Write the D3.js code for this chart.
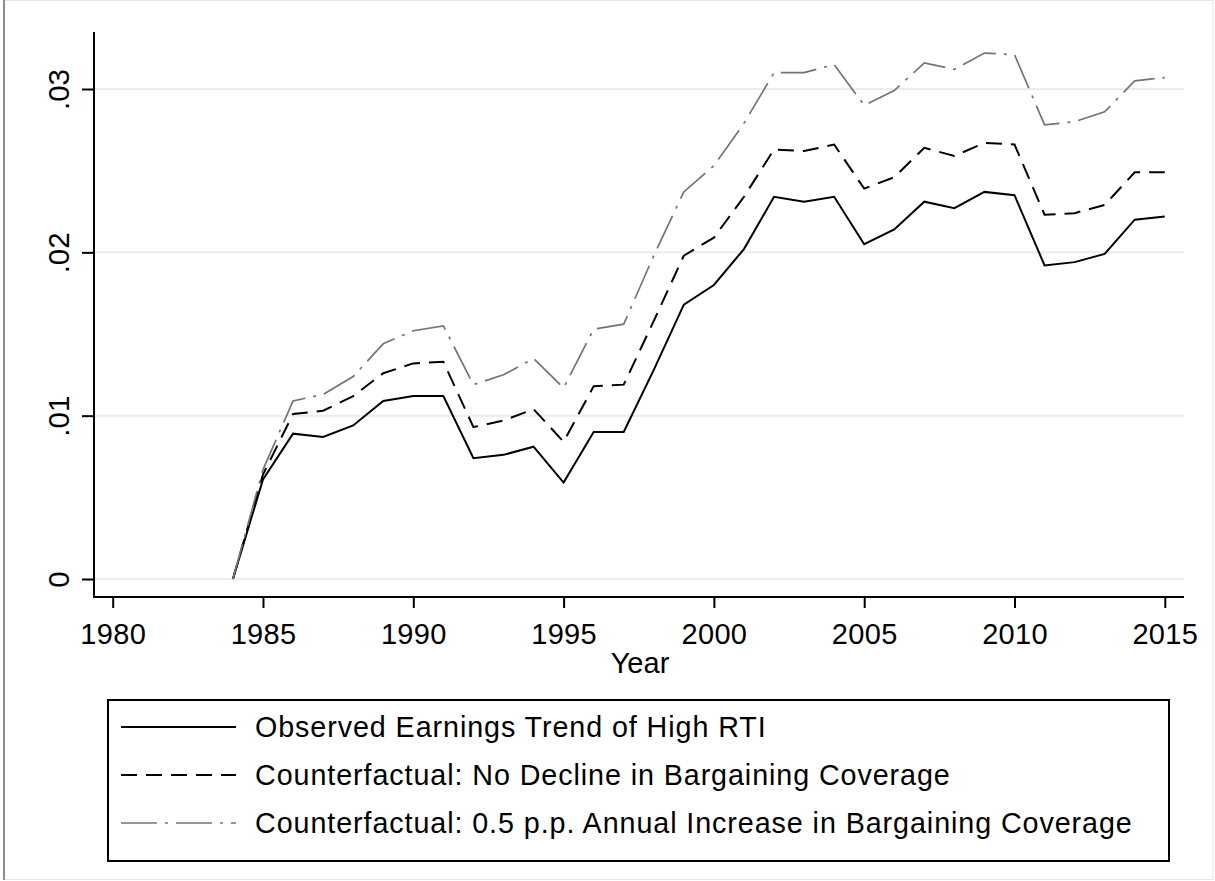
<!DOCTYPE html>
<html>
<head>
<meta charset="utf-8">
<script src="https://cdn.jsdelivr.net/npm/d3@7"></script>
<style>
    html, body { margin: 0; padding: 0; background: #fff; }
    svg { display: block; }
    text { font-family: "Liberation Sans", Arial, sans-serif; fill: #000; }
</style>
</head>
<body>
<div id="chart"></div>
<script>
// data
var years = [1984, 1985, 1986, 1987, 1988, 1989, 1990, 1991, 1992, 1993, 1994, 1995, 1996, 1997, 1998, 1999,
    2000, 2001, 2002, 2003, 2004, 2005, 2006, 2007, 2008, 2009, 2010, 2011, 2012, 2013, 2014, 2015];

var observed = [0, 0.0061, 0.0089, 0.0087, 0.0094, 0.0109, 0.0112, 0.0112, 0.0074, 0.0076, 0.0081, 0.0059, 0.0090, 0.0090, 0.0128, 0.0168,
    0.0180, 0.0202, 0.0234, 0.0231, 0.0234, 0.0205, 0.0214, 0.0231, 0.0227, 0.0237, 0.0235, 0.0192, 0.0194, 0.0199, 0.0220, 0.0222];

var noDecline = [0, 0.0064, 0.0101, 0.0103, 0.0112, 0.0126, 0.0132, 0.0133, 0.0093, 0.0097, 0.0104, 0.0084, 0.0118, 0.0119, 0.0158, 0.0198,
    0.0209, 0.0234, 0.0263, 0.0262, 0.0266, 0.0239, 0.0246, 0.0264, 0.0259, 0.0267, 0.0266, 0.0223, 0.0224, 0.0229, 0.0249, 0.0249];

var increase = [0, 0.0067, 0.0109, 0.0113, 0.0124, 0.0144, 0.0152, 0.0155, 0.0119, 0.0125, 0.0135, 0.0117, 0.0153, 0.0156, 0.0198, 0.0237,
    0.0253, 0.0279, 0.0310, 0.0310, 0.0315, 0.0290, 0.0299, 0.0316, 0.0312, 0.0322, 0.0321, 0.0278, 0.0280, 0.0286, 0.0305, 0.0307];

var xTicks = [1980, 1985, 1990, 1995, 2000, 2005, 2010, 2015];
var yTicks = [0, 0.01, 0.02, 0.03];
var yTickLabels = ["0", ".01", ".02", ".03"];

var legendLabels = [
    "Observed Earnings Trend of High RTI",
    "Counterfactual: No Decline in Bargaining Coverage",
    "Counterfactual: 0.5 p.p. Annual Increase in Bargaining Coverage"
];

var width = 1215;
var height = 881;

var styles = [
    {stroke: "#000", width: 2, dash: null},
    {stroke: "#000", width: 2, dash: "16,9"},
    {stroke: "#747474", width: 1.7, dash: "36,8,3,8"}
];

var series = [observed, noDecline, increase];

var svg = d3.select("#chart").append("svg")
    .attr("width", width)
    .attr("height", height);

// outer graph region border
svg.append("rect")
    .attr("x", 4).attr("y", 0.5)
    .attr("width", 1209).attr("height", 879)
    .attr("fill", "none")
    .attr("stroke", "#e4e4e4")
    .attr("stroke-width", 1);
svg.append("line")
    .attr("x1", 4).attr("x2", 4)
    .attr("y1", 0).attr("y2", 880)
    .attr("stroke", "#8c8c8c")
    .attr("stroke-width", 2);

var plotLeft = 94, plotRight = 1184, plotTop = 32, plotBottom = 597;

var xScale = d3.scaleLinear()
    .domain([1980, 2015])
    .range([112.7, 1164.8]);
var yScale = d3.scaleLinear()
    .domain([0, 0.03])
    .range([579, 89]);

// gridlines
svg.selectAll("line.grid")
    .data(yTicks)
    .enter().append("line")
    .attr("class", "grid")
    .attr("x1", plotLeft)
    .attr("x2", plotRight)
    .attr("y1", function(d){ return yScale(d); })
    .attr("y2", function(d){ return yScale(d); })
    .attr("stroke", "#e6eef0")
    .attr("stroke-width", 2);

// y axis
var yAxis = svg.append("g")
    .attr("transform", "translate(" + plotLeft + ",0)")
    .call(d3.axisLeft(yScale)
        .tickValues(yTicks)
        .tickSize(12)
        .tickFormat(function(d, i){ return yTickLabels[i]; }));
yAxis.select(".domain").remove();
yAxis.selectAll(".tick line").attr("stroke", "#000").attr("stroke-width", 2);
yAxis.selectAll(".tick text")
    .attr("transform", "rotate(-90)")
    .attr("x", 0)
    .attr("y", -25)
    .attr("dy", null)
    .attr("text-anchor", "middle")
    .style("font-size", "29.5px")
    .style("font-family", "'Liberation Sans', Arial, sans-serif")
    .attr("fill", "#000");

svg.append("line")
    .attr("x1", plotLeft).attr("x2", plotLeft)
    .attr("y1", plotTop).attr("y2", plotBottom + 1)
    .attr("stroke", "#000")
    .attr("stroke-width", 2);

// x axis
var xAxis = svg.append("g")
    .attr("transform", "translate(0," + plotBottom + ")")
    .call(d3.axisBottom(xScale)
        .tickValues(xTicks)
        .tickSize(11)
        .tickPadding(15)
        .tickFormat(d3.format("d")));
xAxis.select(".domain").remove();
xAxis.selectAll(".tick line").attr("stroke", "#000").attr("stroke-width", 2);
xAxis.selectAll(".tick text")
    .style("font-size", "29px")
    .style("letter-spacing", "0.3px")
    .style("font-family", "'Liberation Sans', Arial, sans-serif")
    .attr("fill", "#000");

svg.append("line")
    .attr("x1", plotLeft - 1).attr("x2", plotRight)
    .attr("y1", plotBottom).attr("y2", plotBottom)
    .attr("stroke", "#000")
    .attr("stroke-width", 2);

svg.append("text")
    .attr("x", 640)
    .attr("y", 673)
    .attr("text-anchor", "middle")
    .style("font-size", "29px")
    .text("Year");

// lines
var lineFunction = d3.line()
    .x(function(d){ return xScale(d.x); })
    .y(function(d){ return yScale(d.y); });

var lineData = series.map(function(s){
    return s.map(function(v, i){ return {x: years[i], y: v}; });
});

svg.selectAll("path.series")
    .data(lineData)
    .enter().append("path")
    .attr("class", "series")
    .attr("fill", "none")
    .attr("stroke", function(d, i){ return styles[i].stroke; })
    .attr("stroke-width", function(d, i){ return styles[i].width; })
    .attr("stroke-dasharray", function(d, i){ return styles[i].dash; })
    .attr("stroke-linejoin", "miter")
    .attr("d", lineFunction);

// legend
var legend = svg.append("g");
legend.append("rect")
    .attr("x", 108).attr("y", 700)
    .attr("width", 1061).attr("height", 161)
    .attr("fill", "#fff")
    .attr("stroke", "#000")
    .attr("stroke-width", 2);

var rows = legend.selectAll("g.row")
    .data(legendLabels)
    .enter().append("g")
    .attr("class", "row")
    .attr("transform", function(d, i){ return "translate(0," + (737 + i * 48) + ")"; });

rows.append("line")
    .attr("x1", 121).attr("x2", 236)
    .attr("y1", -10).attr("y2", -10)
    .attr("stroke", function(d, i){ return styles[i].stroke; })
    .attr("stroke-width", function(d, i){ return styles[i].width; })
    .attr("stroke-dasharray", function(d, i){ return styles[i].dash; });

rows.append("text")
    .attr("x", 255)
    .attr("y", 0)
    .style("font-size", "28.7px")
    .style("letter-spacing", "0.92px")
    .text(function(d){ return d; });
</script>
</body>
</html>
